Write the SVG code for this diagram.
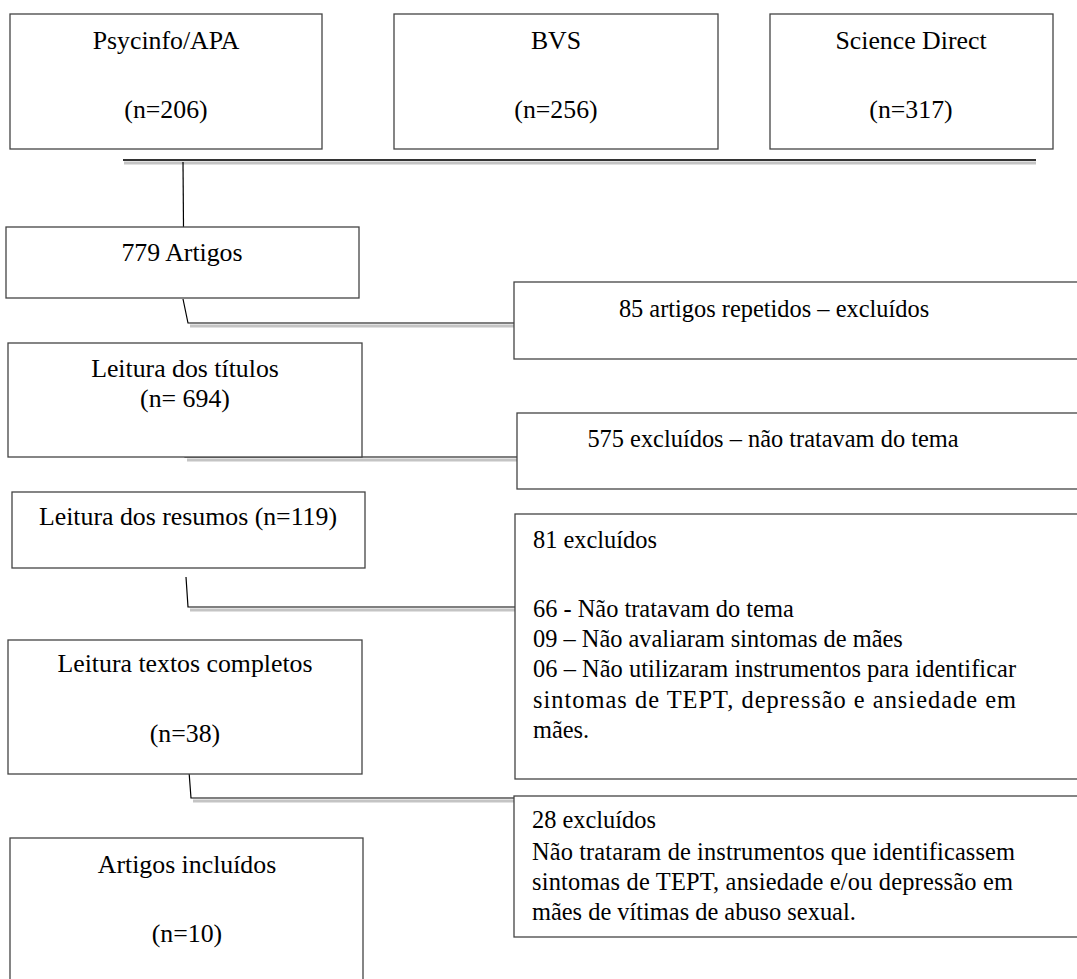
<svg xmlns="http://www.w3.org/2000/svg" width="1077" height="979" viewBox="0 0 1077 979">
<style>
.box{fill:#fff;stroke:#444;stroke-width:1.3}
text{font-family:'Liberation Serif',Tinos,'Times New Roman','DejaVu Serif',serif;font-size:24.4px;fill:#000}
.c{text-anchor:middle}
.big{font-size:25.8px}
.ln{fill:none;stroke:#000;stroke-width:1.2}
.sh{fill:none;stroke:#c4c4c4;stroke-width:3}
</style>
<rect width="1077" height="979" fill="#fff"/>
<g id="connectors">
<line class="sh" x1="124" y1="163" x2="1036" y2="163"/>
<line x1="123" y1="160" x2="1036" y2="160" stroke="#333" stroke-width="2"/>
<line class="ln" x1="183" y1="162" x2="183.5" y2="227"/>
<polyline class="sh" points="190,326 515,326"/>
<polyline class="ln" points="183,299 188,323 515,323"/>
<polyline class="sh" points="187,460 517,460"/>
<polyline class="ln" points="185,427 185,457 517,457"/>
<polyline class="sh" points="190,610 516,610"/>
<polyline class="ln" points="186,577 188,607 516,607"/>
<polyline class="sh" points="193,801 516,801"/>
<polyline class="ln" points="188,758 191,798 516,798"/>
</g>
<g id="psycinfo">
<rect class="box" x="10" y="14" width="312" height="135"/>
<text class="c big" x="166" y="49">Psycinfo/APA</text>
<text class="c big" x="166" y="118">(n=206)</text>
</g>
<g id="bvs">
<rect class="box" x="394" y="14" width="324" height="135"/>
<text class="c big" x="556" y="49">BVS</text>
<text class="c big" x="556" y="118">(n=256)</text>
</g>
<g id="sciencedirect">
<rect class="box" x="770" y="14" width="283" height="135"/>
<text class="c big" x="911" y="49">Science Direct</text>
<text class="c big" x="911" y="118">(n=317)</text>
</g>
<g id="artigos779">
<rect class="box" x="6" y="227" width="353" height="71"/>
<text class="c big" x="182" y="261">779 Artigos</text>
</g>
<g id="repetidos">
<rect class="box" x="514" y="282" width="570" height="77"/>
<text class="c" x="774" y="317">85 artigos repetidos – excluídos</text>
</g>
<g id="titulos">
<rect class="box" x="8" y="343" width="354" height="114"/>
<text class="c big" x="185" y="377">Leitura dos títulos</text>
<text class="c big" x="185" y="407">(n= 694)</text>
</g>
<g id="excl575">
<rect class="box" x="517" y="413" width="570" height="76"/>
<text class="c" x="773" y="447">575 excluídos – não tratavam do tema</text>
</g>
<g id="resumos">
<rect class="box" x="12" y="492" width="353" height="76"/>
<text class="c big" x="188" y="525">Leitura dos resumos (n=119)</text>
</g>
<g id="excl81">
<rect class="box" x="515" y="514" width="570" height="265"/>
<text x="533" y="548">81 excluídos</text>
<text x="533" y="617">66 - Não tratavam do tema</text>
<text x="533" y="647">09 – Não avaliaram sintomas de mães</text>
<text x="533" y="677" textLength="483" lengthAdjust="spacing">06 – Não utilizaram instrumentos para identificar</text>
<text x="533" y="708" textLength="483" lengthAdjust="spacing">sintomas de TEPT, depressão e ansiedade em</text>
<text x="533" y="738">mães.</text>
</g>
<g id="completos">
<rect class="box" x="8" y="640" width="354" height="134"/>
<text class="c big" x="185" y="672">Leitura textos completos</text>
<text class="c big" x="185" y="742">(n=38)</text>
</g>
<g id="excl28">
<rect class="box" x="514" y="796" width="570" height="141"/>
<text x="532" y="828">28 excluídos</text>
<text x="532" y="860" textLength="483" lengthAdjust="spacing">Não trataram de instrumentos que identificassem</text>
<text x="532" y="890" textLength="481" lengthAdjust="spacing">sintomas de TEPT, ansiedade e/ou depressão em</text>
<text x="532" y="920">mães de vítimas de abuso sexual.</text>
</g>
<g id="incluidos">
<rect class="box" x="10" y="838" width="353" height="150"/>
<text class="c big" x="187" y="873">Artigos incluídos</text>
<text class="c big" x="187" y="942">(n=10)</text>
</g>
</svg>
